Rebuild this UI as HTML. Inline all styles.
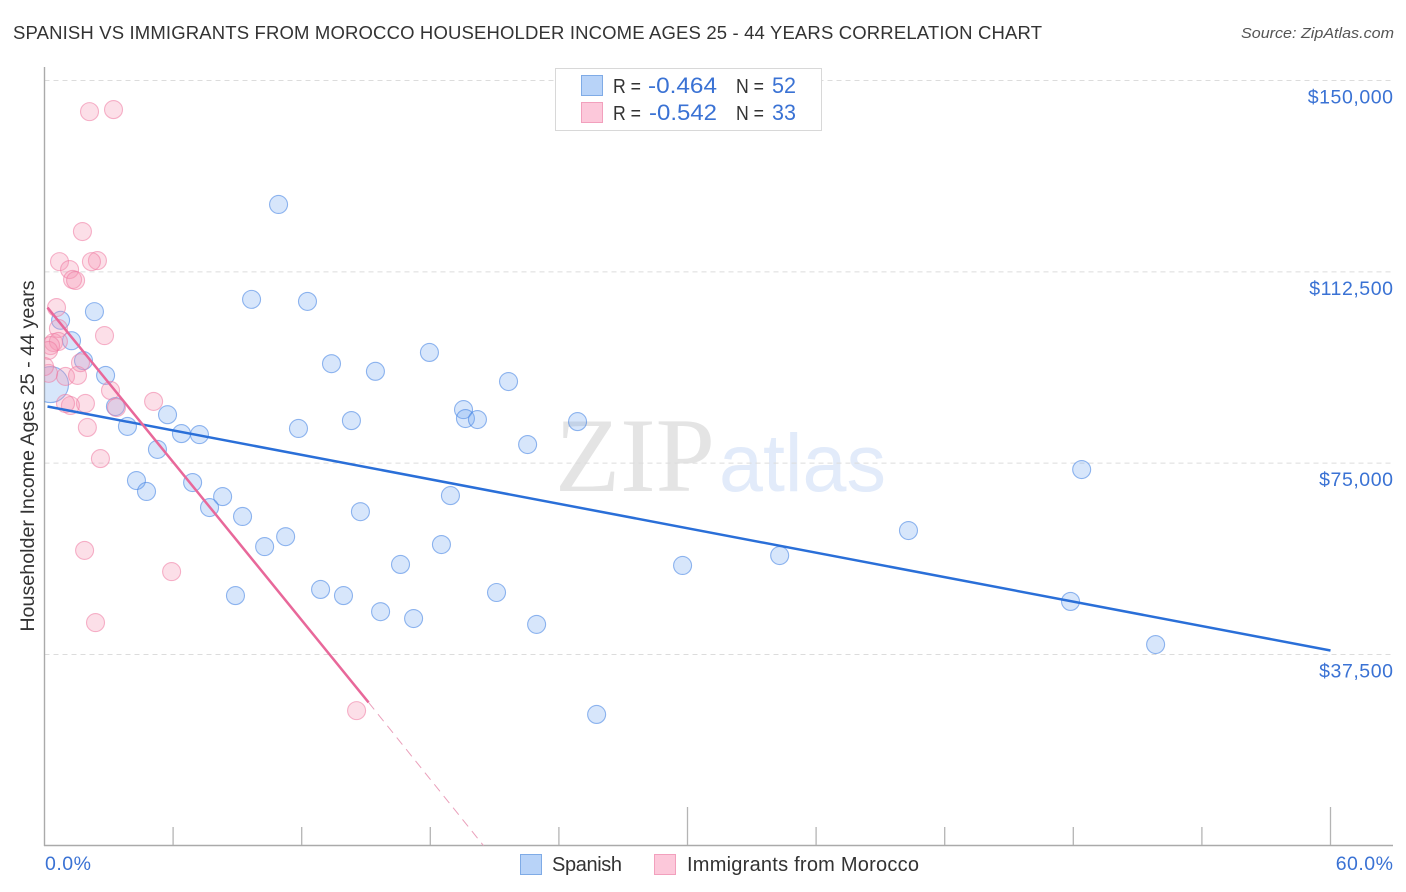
<!DOCTYPE html>
<html lang="en">
<head>
<meta charset="utf-8">
<title>Spanish vs Immigrants from Morocco Householder Income Correlation Chart</title>
<style>
  html, body { margin: 0; padding: 0; background: #fff; }
  #chart { display: block; position: absolute; left: 0; top: 0; }
  text { font-family: "Liberation Sans", sans-serif; }
</style>
</head>
<body>
<svg id="chart" xmlns="http://www.w3.org/2000/svg" width="1406" height="892" viewBox="0 0 1406 892">
  <defs>
    <clipPath id="plot-clip"><rect x="44.5" y="60" width="1350" height="786"/></clipPath>
  </defs>
  <text x="13" y="39" font-size="18.5" fill="#333" textLength="1029" lengthAdjust="spacing">SPANISH VS IMMIGRANTS FROM MOROCCO HOUSEHOLDER INCOME AGES 25 - 44 YEARS CORRELATION CHART</text>
  <text x="1394" y="38" font-size="15" font-style="italic" fill="#555" text-anchor="end" textLength="153" lengthAdjust="spacingAndGlyphs">Source: ZipAtlas.com</text>
  <g id="watermark">
    <text x="555" y="491" font-size="106" fill="#e4e4e4" style="font-family:'Liberation Serif',serif" textLength="160" lengthAdjust="spacingAndGlyphs">ZIP</text>
    <text x="719" y="491" font-size="82" fill="#e2ebfa" textLength="167" lengthAdjust="spacingAndGlyphs">atlas</text>
  </g>
  <g id="grid"></g>
  <g id="axes"></g>
  <g id="marks" clip-path="url(#plot-clip)"></g>
  <g id="lines"></g>
  <text transform="translate(34,456) rotate(-90)" font-size="19.7" fill="#333" text-anchor="middle">Householder Income Ages 25 - 44 years</text>

  <g>
    <rect x="555.5" y="68.5" width="266" height="62" fill="#fff" stroke="#d8d8d8"/>
    <rect x="581.5" y="75.5" width="21" height="20" fill="#b8d3f8" stroke="#7fabe6"/>
    <rect x="581.5" y="102.5" width="21" height="20" fill="#fcc8da" stroke="#f2a0bd"/>
    <text x="613" y="93" font-size="20" fill="#333" textLength="28" lengthAdjust="spacingAndGlyphs">R =</text>
    <text x="648" y="93" font-size="22" fill="#3a72d4" textLength="69" lengthAdjust="spacingAndGlyphs">-0.464</text>
    <text x="736" y="93" font-size="20" fill="#333" textLength="28" lengthAdjust="spacingAndGlyphs">N =</text>
    <text x="772" y="93" font-size="22" fill="#3a72d4" textLength="24" lengthAdjust="spacingAndGlyphs">52</text>
    <text x="613" y="120" font-size="20" fill="#333" textLength="28" lengthAdjust="spacingAndGlyphs">R =</text>
    <text x="649" y="120" font-size="22" fill="#3a72d4" textLength="68" lengthAdjust="spacingAndGlyphs">-0.542</text>
    <text x="736" y="120" font-size="20" fill="#333" textLength="28" lengthAdjust="spacingAndGlyphs">N =</text>
    <text x="772" y="120" font-size="22" fill="#3a72d4" textLength="24" lengthAdjust="spacingAndGlyphs">33</text>
  </g>

  <g>
    <rect x="520.5" y="854.5" width="21" height="20" fill="#b8d3f8" stroke="#7fabe6"/>
    <text x="552" y="871" font-size="20" fill="#333" textLength="70" lengthAdjust="spacing">Spanish</text>
    <rect x="654.5" y="854.5" width="21" height="20" fill="#fcc8da" stroke="#f2a0bd"/>
    <text x="687" y="871" font-size="20" fill="#333" textLength="232" lengthAdjust="spacing">Immigrants from Morocco</text>
  </g>
</svg>
<script>
const yTickValues = [150000, 112500, 75000, 37500];
const yTickLabels = ["$150,000", "$112,500", "$75,000", "$37,500"];
const xTickValues = [0, 6, 12, 18, 24, 30, 36, 42, 48, 54, 60];
const xMajorTicks = [30, 60];
const xEndLabels = ["0.0%", "60.0%"];

const spanishPct = [10.92,9.66,12.27,2.33,0.75,1.26,1.82,2.85,13.39,15.44,17.96,21.65,19.55,19.64,20.2,24.87,14.32,11.85,3.31,5.74,3.87,6.39,7.23,5.27,22.54,4.29,4.76,6.91,8.31,7.7,9.24,14.74,18.94,11.25,10.27,18.52,16.61,12.88,13.95,8.91,15.68,17.22,21.09,22.96,25.76,29.77,34.3,40.31,48.39,47.87,51.84,0.28];
const spanishIncome = [125700,107100,106700,104700,103000,99000,95100,92200,94500,93000,96700,91000,85500,83750,83550,83150,83350,81800,86100,84500,82200,80800,80600,77700,78650,71600,69450,71200,68450,66300,64550,65500,68650,60600,58650,59050,55150,50250,49050,49050,45900,44550,49650,43400,25750,54950,56900,61800,73750,47900,39450,90400];
const moroccoPct = [2.1,3.22,1.77,0.7,2.47,2.19,1.17,1.31,1.45,0.56,0.65,2.8,0.42,0.65,0.28,0.19,0.98,1.54,1.68,0.19,3.08,5.09,3.36,1.91,1.21,0.98,2.0,2.61,1.87,5.93,2.38,14.56,0];
const moroccoIncome = [143900,144300,120400,114500,114700,114500,112950,111000,110800,105500,101400,100000,98650,98850,98050,97100,92000,92200,94700,92600,89250,87100,85900,86700,86300,86700,82000,75900,57900,53750,43750,26500,93950];
const spanishTrendPct = [0.14, 60];
const spanishTrendIncome = [86100, 38280];
const moroccoTrendPct = [0.14, 15.12];
const moroccoTrendIncome = [105500, 28100];
const moroccoExtensionPct = [15.12, 20.48];
const moroccoExtensionIncome = [28100, 60];

const SVG_NS = "http://www.w3.org/2000/svg";
const gridLayer = document.getElementById("grid");
const axesLayer = document.getElementById("axes");
const marksLayer = document.getElementById("marks");
const linesLayer = document.getElementById("lines");

function xScale(pct) { return 44.5 + pct * (1330.5 - 44.5) / 60; }
function yScale(income) { return 80.5 + (150000 - income) * (654.5 - 80.5) / 112500; }

function make(tag, attrs, parent, text) {
  const el = document.createElementNS(SVG_NS, tag);
  for (const k in attrs) el.setAttribute(k, attrs[k]);
  if (text !== undefined) el.textContent = text;
  parent.appendChild(el);
  return el;
}

yTickValues.forEach(function (v, i) {
  const y = yScale(v);
  const gl = make("line", { x1: 44.5, x2: 1393, y1: y, y2: y, stroke: "#dcdcdc", "stroke-width": 1, "stroke-dasharray": "5 4" }, gridLayer);
  
  
  const lab = make("text", { x: 1393.5, y: y + 23, "text-anchor": "end", "font-size": 19.5, "letter-spacing": 0.55, fill: "#3a72d4" }, axesLayer, yTickLabels[i]);
  
  
});

const yAxis = make("line", { x1: 44.5, x2: 44.5, y1: 67, y2: 846, stroke: "#aaa", "stroke-width": 1.4 }, axesLayer);


const xAxis = make("line", { x1: 44, x2: 1393, y1: 845.5, y2: 845.5, stroke: "#aaa", "stroke-width": 1.4 }, axesLayer);



xTickValues.forEach(function (v) {
  if (v === 0) return;
  const x = xScale(v);
  const top = xMajorTicks.indexOf(v) >= 0 ? 807 : 827;
  const t = make("line", { x1: x, x2: x, y1: top, y2: 845, stroke: "#b4b4b4", "stroke-width": 1.3 }, axesLayer);
  
  
});

const xLabelLeft = make("text", { x: 45, y: 870, "font-size": 19.5, "letter-spacing": 0.5, fill: "#3a72d4" }, axesLayer, xEndLabels[0]);


const xLabelRight = make("text", { x: 1393.5, y: 870, "text-anchor": "end", "font-size": 19.5, "letter-spacing": 0.5, fill: "#3a72d4" }, axesLayer, xEndLabels[1]);



const largestSpanishIndex = spanishPct.length - 1;
spanishPct.forEach(function (p, i) {
  const c = make("circle", {
    cx: xScale(p), cy: yScale(spanishIncome[i]), r: i === largestSpanishIndex ? 18 : 9,
    fill: "rgba(110,165,240,0.28)", stroke: "rgba(60,125,225,0.55)", "stroke-width": 1.1
  }, marksLayer);
  
  
});
moroccoPct.forEach(function (p, i) {
  const c = make("circle", {
    cx: xScale(p), cy: yScale(moroccoIncome[i]), r: 9,
    fill: "rgba(245,150,180,0.3)", stroke: "rgba(238,120,160,0.55)", "stroke-width": 1.1
  }, marksLayer);
  
  
});

const spanishTrend = make("line", {
  x1: xScale(spanishTrendPct[0]), y1: yScale(spanishTrendIncome[0]),
  x2: xScale(spanishTrendPct[1]), y2: yScale(spanishTrendIncome[1]),
  stroke: "#2a6fd8", "stroke-width": 2.5
}, linesLayer);



const moroccoTrend = make("line", {
  x1: xScale(moroccoTrendPct[0]), y1: yScale(moroccoTrendIncome[0]),
  x2: xScale(moroccoTrendPct[1]), y2: yScale(moroccoTrendIncome[1]),
  stroke: "#e8689a", "stroke-width": 2.5
}, linesLayer);



const moroccoExtension = make("line", {
  x1: xScale(moroccoExtensionPct[0]), y1: yScale(moroccoExtensionIncome[0]),
  x2: xScale(moroccoExtensionPct[1]), y2: yScale(moroccoExtensionIncome[1]),
  stroke: "#eaa0bb", "stroke-width": 1, "stroke-dasharray": "9 6"
}, linesLayer);


</script>
</body>
</html>
